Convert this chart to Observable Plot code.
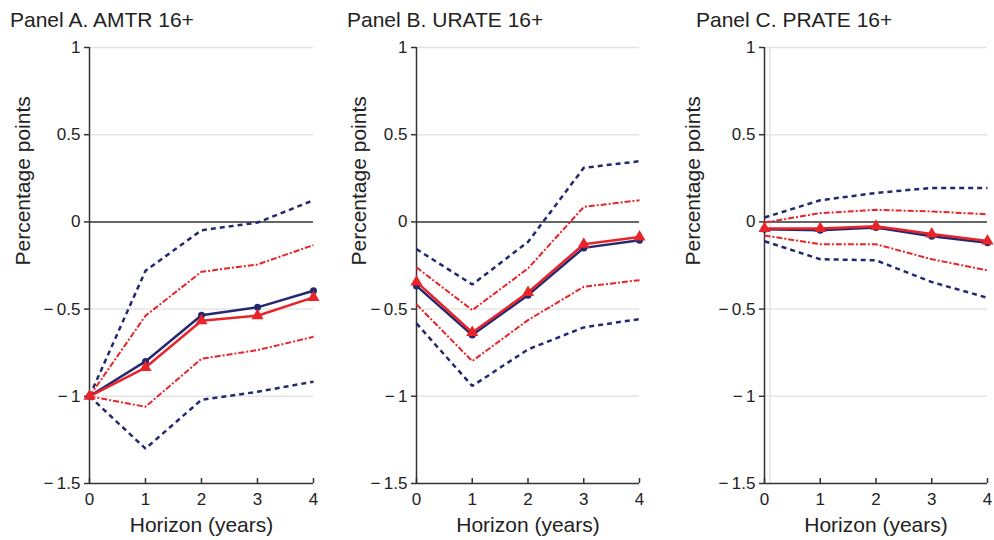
<!DOCTYPE html>
<html>
<head>
<meta charset="utf-8">
<script src="https://cdn.jsdelivr.net/npm/d3@7"></script>
<script src="https://cdn.jsdelivr.net/npm/@observablehq/plot@0.6"></script>
<style>
  body { margin: 0; background: #fff; }
  #wrap { position: relative; width: 994px; height: 540px; overflow: hidden; font-family: "Liberation Sans", Arial, sans-serif; }
  .title { position: absolute; top: 8px; font-size: 21px; line-height: 24px; color: #222; white-space: nowrap; }
  .panel { position: absolute; top: 36px; }
</style>
</head>
<body>
<div id="wrap"></div>
<script>
const horizon = [0, 1, 2, 3, 4];
const yTicks = [-1.5, -1, -0.5, 0, 0.5, 1];
const gridTicks = [-1, -0.5, 0.5, 1];
const titles = ["Panel A. AMTR 16+", "Panel B. URATE 16+", "Panel C. PRATE 16+"];

// Panel A
const aBlue   = [-1, -0.80, -0.535, -0.49, -0.395];
const aRed    = [-1, -0.835, -0.567, -0.538, -0.433];
const aBlueHi = [-1, -0.28, -0.048, -0.004, 0.124];
const aBlueLo = [-1, -1.30, -1.02, -0.974, -0.916];
const aRedHi  = [-1, -0.538, -0.286, -0.244, -0.133];
const aRedLo  = [-1, -1.06, -0.785, -0.735, -0.659];

// Panel B
const bBlue   = [-0.367, -0.649, -0.42, -0.149, -0.105];
const bRed    = [-0.344, -0.634, -0.405, -0.128, -0.086];
const bBlueHi = [-0.156, -0.359, -0.115, 0.31, 0.348];
const bBlueLo = [-0.582, -0.941, -0.731, -0.605, -0.557];
const bRedHi  = [-0.261, -0.506, -0.267, 0.086, 0.124];
const bRedLo  = [-0.473, -0.798, -0.563, -0.372, -0.334];

// Panel C
const cBlue   = [-0.042, -0.048, -0.032, -0.082, -0.12];
const cRed    = [-0.038, -0.038, -0.025, -0.07, -0.109];
const cBlueHi = [0.025, 0.124, 0.166, 0.195, 0.195];
const cBlueLo = [-0.111, -0.214, -0.22, -0.345, -0.435];
const cRedHi  = [-0.004, 0.05, 0.069, 0.06, 0.044];
const cRedLo  = [-0.078, -0.128, -0.128, -0.214, -0.278];

const BLUE = "#24286f";
const RED = "#e8242b";

const toRows = (vals) => horizon.map((h, i) => ({h, v: vals[i]}));
const fmt = (d) => (d < 0 ? "\u2212\u2009" : "") + String(Math.abs(d));

function panel(cfg) {
  const {width, marginLeft, marginRight, labelDx, s, extraRule} = cfg;
  const marks = [
    Plot.ruleY(gridTicks, {stroke: "#e4e4e4", strokeWidth: 1.5}),
  ];
  if (extraRule) marks.push(Plot.ruleX(extraRule, {stroke: "#e4e4e4", strokeWidth: 1.5}));
  const dashed = {stroke: BLUE, strokeWidth: 2.5, strokeDasharray: "5,4", strokeLinecap: "butt", strokeLinejoin: "miter"};
  const dashDot = {stroke: RED, strokeWidth: 2, strokeDasharray: "6,2,2,2", strokeLinecap: "butt", strokeLinejoin: "miter"};
  marks.push(
    Plot.ruleY([0], {stroke: "#333", strokeWidth: 1.5}),
    Plot.ruleX([0], {stroke: "#333", strokeWidth: 1.5}),
    Plot.ruleY([-1.5], {stroke: "#333", strokeWidth: 1.5}),
    Plot.ruleX(horizon, {y1: -1.5, y2: -1.5, insetBottom: 5, stroke: "#333", strokeWidth: 1.5}),
    Plot.axisY(yTicks, {tickSize: 5, tickPadding: 4, fontSize: 17, label: null, tickFormat: fmt, stroke: "#333", strokeWidth: 1.5}),
    Plot.axisX(horizon, {tickSize: 0, tickPadding: 9, fontSize: 17, label: null}),
    Plot.text(["Percentage points"], {frameAnchor: "left", rotate: -90, dx: labelDx, fontSize: 21, fill: "#222"}),
    Plot.text(["Horizon (years)"], {frameAnchor: "bottom", dy: 48, fontSize: 21, fill: "#222"}),
    Plot.line(toRows(s.blueHi), {x: "h", y: "v", ...dashed}),
    Plot.line(toRows(s.blueLo), {x: "h", y: "v", ...dashed}),
    Plot.line(toRows(s.redHi), {x: "h", y: "v", ...dashDot}),
    Plot.line(toRows(s.redLo), {x: "h", y: "v", ...dashDot}),
    Plot.line(toRows(s.blue), {x: "h", y: "v", stroke: BLUE, strokeWidth: 2.5}),
    Plot.dot(toRows(s.blue), {x: "h", y: "v", fill: BLUE, r: 3.5, symbol: "circle"}),
    Plot.line(toRows(s.red), {x: "h", y: "v", stroke: RED, strokeWidth: 2.5}),
    Plot.dot(toRows(s.red), {x: "h", y: "v", fill: RED, r: 4.5, symbol: "triangle"})
  );
  return Plot.plot({
    width, height: 504,
    marginTop: 11, marginBottom: 57, marginLeft, marginRight,
    style: {fontFamily: "'Liberation Sans', Arial, sans-serif", color: "#222", background: "transparent", overflow: "visible"},
    x: {domain: [0, 4]},
    y: {domain: [-1.5, 1]},
    marks
  });
}

const wrap = document.getElementById("wrap");
const specs = [
  {left: 0, width: 331, marginLeft: 89, marginRight: 18, labelDx: -66, titleX: 10,
   s: {blue: aBlue, red: aRed, blueHi: aBlueHi, blueLo: aBlueLo, redHi: aRedHi, redLo: aRedLo}},
  {left: 331, width: 331, marginLeft: 85, marginRight: 23, labelDx: -57, titleX: 347,
   s: {blue: bBlue, red: bRed, blueHi: bBlueHi, blueLo: bBlueLo, redHi: bRedHi, redLo: bRedLo}},
  {left: 662, width: 332, marginLeft: 102, marginRight: 7, labelDx: -71, titleX: 696, extraRule: [0.1],
   s: {blue: cBlue, red: cRed, blueHi: cBlueHi, blueLo: cBlueLo, redHi: cRedHi, redLo: cRedLo}}
];
specs.forEach((sp, i) => {
  const t = document.createElement("div");
  t.className = "title";
  t.style.left = sp.titleX + "px";
  t.textContent = titles[i];
  wrap.appendChild(t);
  const p = panel(sp);
  p.classList.add("panel");
  p.style.left = sp.left + "px";
  wrap.appendChild(p);
});
</script>
</body>
</html>
